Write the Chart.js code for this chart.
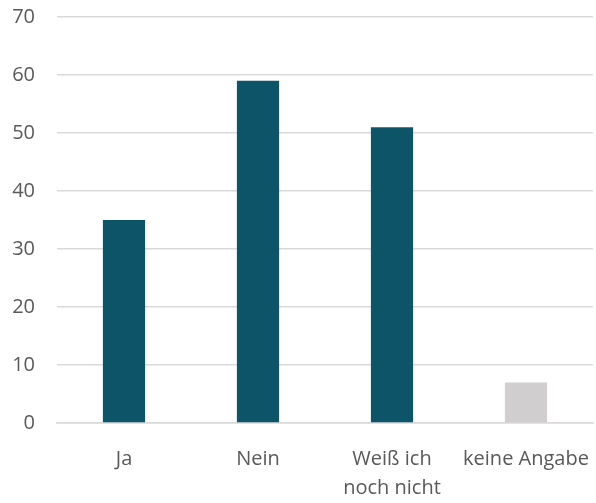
<!DOCTYPE html>
<html>
<head>
<meta charset="utf-8">
<script src="https://cdn.jsdelivr.net/npm/chart.js@4/dist/chart.umd.min.js"></script>
<style>
  html, body { margin: 0; padding: 0; background: #fff; }
  #wrap { width: 596px; height: 503px; }
</style>
</head>
<body>
<div id="wrap"><canvas id="chart"></canvas></div>
<script>
// survey answers
const categories = ["Ja", "Nein", ["Weiß ich", "noch nicht"], "keine Angabe"];
const counts = [35, 59, 51, 7];
const barColors = ["#0E5468", "#0E5468", "#0E5468", "#D0CECE"];
const yTicks = [0, 10, 20, 30, 40, 50, 60, 70];

const txt = "#595959";

new Chart(document.getElementById("chart"), {
  type: "bar",
  data: {
    labels: categories,
    datasets: [{
      data: counts,
      backgroundColor: barColors,
      barPercentage: 1,
      categoryPercentage: 0.315
    }]
  },
  options: {
    responsive: true,
    maintainAspectRatio: false,
    animation: false,
    layout: { padding: { top: 17, right: 3, left: 0, bottom: 0 } },
    plugins: { legend: { display: false }, tooltip: { enabled: false } },
    scales: {
      x: {
        grid: { display: false, drawTicks: false },
        border: { display: true, color: "#D9D9D9", width: 1.5 },
        ticks: {
          color: txt,
          font: { family: "Open Sans", size: 20, lineHeight: 1.45 },
          padding: 22,
          maxRotation: 0,
          autoSkip: false
        },
        afterFit: s => { s.height = 80; s.paddingLeft = 0; s.paddingRight = 0; }
      },
      y: {
        min: 0,
        max: 70,
        afterBuildTicks: s => { s.ticks = yTicks.map(v => ({ value: v })); },
        grid: { color: "#D9D9D9", lineWidth: 1.5, drawTicks: false },
        border: { display: false },
        ticks: {
          color: txt,
          font: { family: "Open Sans", size: 20 },
          padding: 22
        },
        afterFit: s => { s.width = 57; s.paddingTop = 0; s.paddingBottom = 0; }
      }
    }
  }
});
</script>
</body>
</html>
